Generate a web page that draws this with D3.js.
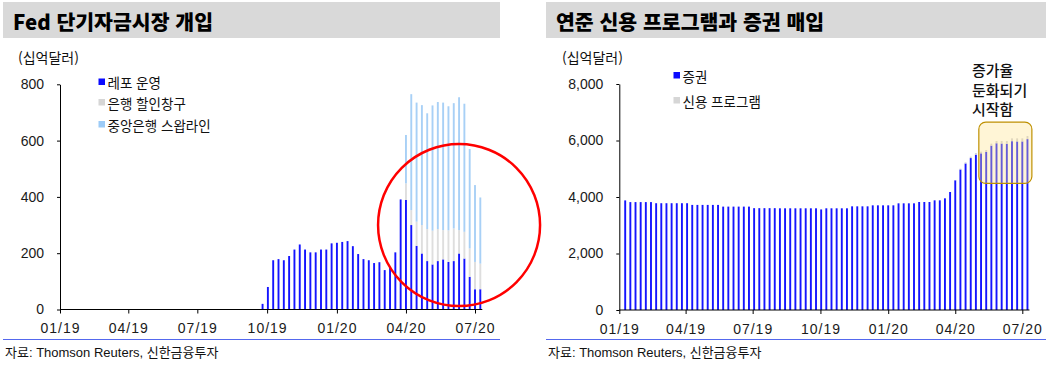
<!DOCTYPE html>
<html lang="ko">
<head>
<meta charset="utf-8">
<title>Fed 단기자금시장 개입 / 연준 증권 매입</title>
<script src="https://d3js.org/d3.v7.min.js"></script>
<style>
body { margin: 0; background: #fff; }
text { font-family: "Liberation Sans", "Noto Sans CJK KR", sans-serif; fill: #111; }
.kr { font-family: "Noto Sans CJK KR", sans-serif; }
.title { font-family: "Noto Sans CJK KR", sans-serif; font-weight: 900; font-size: 20.5px; fill: #000; }
.axis text { font-size: 14px; fill: #1a1a1a; }
.axis line, .axis path { stroke: #000; }
</style>
</head>
<body>
<div id="main"></div>
<script>
// ---- data (weekly, Wednesday levels, 십억달러) ----
const tickDates = ['2019-01-01', '2019-04-01', '2019-07-01', '2019-10-01', '2020-01-01', '2020-04-01', '2020-07-01'];
const tickLabels = ['01/19', '04/19', '07/19', '10/19', '01/20', '04/20', '07/20'];

// left: Fed 단기자금시장 개입, weeks from 2019-09-25
const leftStart = '2019-09-25';
const leftKeys = ['레포 운영', '은행 할인창구', '중앙은행 스왑라인'];
const repo = [20, 80, 175, 179, 175, 190, 213, 231, 213, 203, 203, 213, 213, 235, 237, 240, 243, 225, 197, 179, 175,
  165, 168, 140, 149, 203, 391, 389, 300, 226, 199, 172, 160, 172, 178, 169, 172, 199, 181, 116, 72, 72];
const discountWindow = [0, 0, 0, 0, 0, 0, 0, 0, 0, 0, 0, 0, 0, 0, 0, 0, 0, 0, 0, 0, 0,
  0, 0, 0, 0, 0, 0, 59, 53, 86, 101, 114, 120, 114, 104, 112, 116, 83, 95, 101, 97, 91];
const swapLines = [0, 0, 0, 0, 0, 0, 0, 0, 0, 0, 0, 0, 0, 0, 0, 0, 0, 0, 0, 0, 0,
  0, 0, 0, 0, 0, 0, 172, 412, 423, 426, 411, 445, 451, 453, 441, 445, 472, 455, 353, 273, 235];

// right: 연준 신용 프로그램과 증권 매입, weeks from 2019-01-09
const rightStart = '2019-01-09';
const rightKeys = ['증권', '신용 프로그램'];
const securities = [3880, 3820, 3820, 3820, 3820, 3820, 3780, 3780, 3780, 3780, 3780, 3780, 3780,
  3720, 3720, 3720, 3720, 3720, 3720, 3660, 3660, 3660, 3660, 3660, 3660,
  3605, 3605, 3605, 3605, 3605, 3600, 3600, 3600, 3600, 3600, 3600, 3600, 3600, 3560,
  3600, 3600, 3600, 3600, 3600, 3670, 3670, 3670, 3670, 3705, 3705, 3705, 3705, 3705,
  3776, 3776, 3776, 3776, 3823, 3823, 3823, 3882, 3882, 3953, 4177, 4592, 4973, 5187,
  5378, 5498, 5545, 5594, 5818, 5902, 5892, 5882, 5976, 5966, 5966, 6049];
const creditPrograms = [0, 0, 0, 0, 0, 0, 0, 0, 0, 0, 0, 0, 0, 0, 0, 0, 0, 0, 0, 0, 0, 0, 0, 0, 0,
  0, 0, 0, 0, 0, 0, 0, 0, 0, 0, 0, 0, 0, 0, 0, 0, 0, 0, 0, 0, 0, 0, 0, 0, 0, 0, 0, 0, 0, 0, 0, 0, 0, 0, 0, 0, 0, 0,
  0, 10, 30, 40, 50, 60, 60, 70, 70, 80, 90, 100, 100, 110, 110, 110];

const annotationLines = ['증가율', '둔화되기', '시작함'];

// ---- layout ----
const width = 1046;
const height = 365;
const parse = d3.timeParse('%Y-%m-%d');
const barWidth = 1.9;

const svg = d3.select('#main')
  .append('svg')
  .attr('width', width)
  .attr('height', height);

const weeks = (start, n) => d3.range(n).map(i => d3.timeDay.offset(parse(start), 7 * i));

function drawPanel(p) {
  const g = svg.append('g');

  // title bar
  g.append('rect')
    .attr('x', p.boxLeft).attr('y', 2)
    .attr('width', p.boxRight - p.boxLeft).attr('height', 36)
    .attr('fill', '#d9d9d9');
  g.append('text')
    .attr('class', 'title')
    .attr('x', p.boxLeft + 10).attr('y', 21)
    .attr('dominant-baseline', 'central')
    .text(p.title);

  g.append('text')
    .attr('class', 'kr')
    .attr('x', p.unitX).attr('y', 57)
    .attr('dominant-baseline', 'central')
    .attr('font-size', 14)
    .text('(십억달러)');

  const x = d3.scaleTime()
    .domain([parse(tickDates[0]), parse(tickDates[tickDates.length - 1])])
    .range([p.left, p.right]);
  const y = d3.scaleLinear()
    .domain([0, p.yMax])
    .range([p.bottom, p.top]);

  const dates = weeks(p.start, p.series[0].length);
  const rows = dates.map((d, i) => {
    const r = { date: d };
    p.keys.forEach((k, j) => r[k] = p.series[j][i]);
    return r;
  });
  const stacked = d3.stack().keys(p.keys)(rows);

  g.selectAll('g.layer')
    .data(stacked)
    .enter()
    .append('g')
    .attr('class', 'layer')
    .attr('fill', (_, i) => p.colors[i])
    .selectAll('rect')
    .data(s => s.filter(v => v[1] > v[0]))
    .enter()
    .append('rect')
    .attr('x', v => x(v.data.date) - barWidth / 2)
    .attr('y', v => y(v[1]))
    .attr('width', barWidth)
    .attr('height', v => y(v[0]) - y(v[1]));

  // y axis
  const yAxis = d3.axisLeft(y)
    .tickValues(d3.range(0, p.yMax + 1, p.yMax / 4))
    .tickFormat(d3.format(p.yFormat))
    .tickSize(3)
    .tickPadding(13)
    .tickSizeOuter(0);
  g.append('g')
    .attr('class', 'axis')
    .attr('transform', `translate(${p.left}, 0)`)
    .call(yAxis);

  // x axis
  const xAxis = d3.axisBottom(x)
    .tickValues(tickDates.map(parse))
    .tickFormat((_, i) => tickLabels[i])
    .tickSize(4)
    .tickPadding(10)
    .tickSizeOuter(0);
  const xg = g.append('g')
    .attr('class', 'axis')
    .attr('transform', `translate(0, ${p.bottom})`)
    .call(xAxis);
  xg.select('.domain').remove();
  xg.selectAll('text').attr('letter-spacing', 1);
  xg.append('line')
    .attr('x1', p.left).attr('x2', x(dates[dates.length - 1]) + 2)
    .attr('stroke', '#000');

  // legend
  p.keys.forEach((k, i) => {
    const ly = p.legendY[i];
    g.append('rect')
      .attr('x', p.legendX).attr('y', ly - 3.5)
      .attr('width', 6.5).attr('height', 6.5)
      .attr('fill', p.legendColors[i]);
    g.append('text')
      .attr('class', 'kr')
      .attr('x', p.legendX + 9).attr('y', ly)
      .attr('dominant-baseline', 'central')
      .attr('font-size', 13.5)
      .text(k);
  });

  // bottom rule + source
  g.append('line')
    .attr('x1', p.boxLeft).attr('x2', p.boxRight)
    .attr('y1', 339.5).attr('y2', 339.5)
    .attr('stroke', '#5468ee')
    .attr('stroke-width', 1.2);
  g.append('text')
    .attr('x', p.boxLeft + 2).attr('y', 352)
    .attr('dominant-baseline', 'central')
    .attr('font-size', 13)
    .attr('fill', '#333')
    .text('자료: Thomson Reuters, 신한금융투자');

  return { g, x, y };
}

const leftPanel = drawPanel({
  title: 'Fed 단기자금시장 개입',
  boxLeft: 3, boxRight: 500, unitX: 18,
  left: 60, right: 475, top: 84.3, bottom: 309.5,
  yMax: 800, yFormat: 'd',
  start: leftStart,
  keys: leftKeys,
  series: [repo, discountWindow, swapLines],
  colors: ['#1414ff', '#dedede', '#a8d0f6'],
  legendColors: ['#0a0aff', '#d6d6d6', '#9ccbf7'],
  legendX: 98.5, legendY: [82, 102.5, 124.5]
});

// red circle round the 2020 spike
leftPanel.g.append('circle')
  .attr('cx', leftPanel.x(parse('2020-06-10')))
  .attr('cy', leftPanel.y(300))
  .attr('r', 81)
  .attr('fill', 'none')
  .attr('stroke', '#ff0000')
  .attr('stroke-width', 2.5);

const rightPanel = drawPanel({
  title: '연준 신용 프로그램과 증권 매입',
  boxLeft: 546, boxRight: 1046, unitX: 562,
  left: 619.3, right: 1022.3, top: 84, bottom: 310,
  yMax: 8000, yFormat: ',',
  start: rightStart,
  keys: rightKeys,
  series: [securities, creditPrograms],
  colors: ['#1414ff', '#d0d0d8'],
  legendColors: ['#0a0aff', '#d6d6d6'],
  legendX: 673.5, legendY: [75.5, 100.5]
});

// highlight box on the flattening
const rx = rightPanel.x, ry = rightPanel.y;
rightPanel.g.append('rect')
  .attr('x', rx(parse('2020-05-03')))
  .attr('y', ry(6650))
  .attr('width', rx(parse('2020-07-14')) - rx(parse('2020-05-03')))
  .attr('height', ry(4480) - ry(6650))
  .attr('rx', 7)
  .attr('fill', '#ffe38a')
  .attr('fill-opacity', 0.35)
  .attr('stroke', '#bf9000')
  .attr('stroke-width', 1.2);

rightPanel.g.selectAll('text.note')
  .data(annotationLines)
  .enter()
  .append('text')
  .attr('class', 'kr note')
  .attr('x', 972)
  .attr('y', (_, i) => 69.5 + i * 19.5)
  .attr('dominant-baseline', 'central')
  .attr('font-size', 15)
  .attr('font-weight', 500)
  .attr('fill', '#000')
  .text(d => d);
</script>
</body>
</html>
